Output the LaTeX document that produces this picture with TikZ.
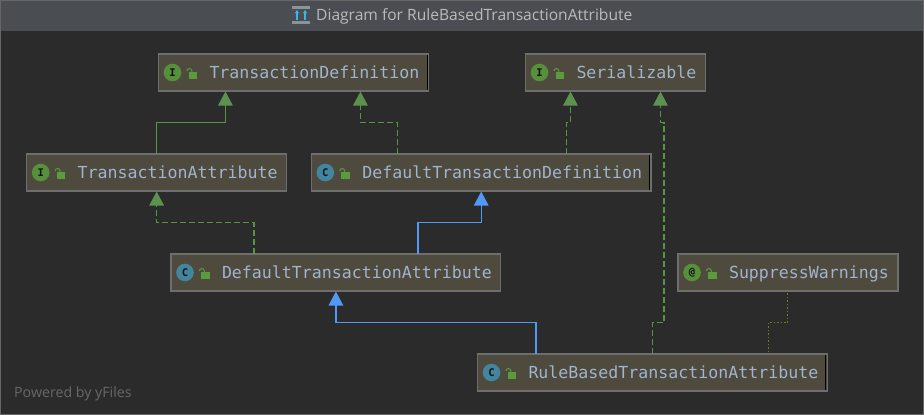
\documentclass[tikz,border=0pt]{standalone}
\usepackage{fontspec}
\setmainfont{Open Sans}
\newfontfamily\boxfont{DejaVu Sans Mono}
\usetikzlibrary{arrows.meta}
\definecolor{canvas}{HTML}{2B2B2B}
\definecolor{titlebar}{HTML}{4A4D51}
\definecolor{frameline}{HTML}{666666}
\definecolor{boxfill}{HTML}{4E4A3E}
\definecolor{boxline}{HTML}{6E6E6E}
\definecolor{boxtext}{HTML}{A0B4CE}
\definecolor{greenline}{HTML}{55963F}
\definecolor{greentip}{HTML}{5C9150}
\definecolor{blueline}{HTML}{5199F5}
\definecolor{oliveline}{HTML}{77771F}
\definecolor{ifacegreen}{HTML}{56903A}
\definecolor{classblue}{HTML}{41859F}
\definecolor{lockgreen}{HTML}{5A9B3C}
\definecolor{titletext}{HTML}{BBBBBB}
\definecolor{poweredtext}{HTML}{686868}
\definecolor{iconbar}{HTML}{8A949C}
\definecolor{iconarrow}{HTML}{3DB4E8}
\tikzset{
  classbox/.style={draw=boxline, line width=1.3pt, fill=boxfill, anchor=west, outer sep=0pt,
    inner xsep=0pt, inner ysep=0pt, minimum height=37pt, text=boxtext,
    text height=15pt, text depth=3.4pt,
    font=\boxfont\fontsize{16.6}{20}\selectfont, align=left,
    execute at begin node={\hspace*{51pt}}, execute at end node={\hspace*{9pt}}},
  badge/.style={circle, minimum size=17.6pt, inner sep=0pt, text=black!75!boxfill,
    font=\boxfont\bfseries\fontsize{10.5}{10}\selectfont},
  extends/.style={line width=1.2pt, color=greenline, -{Triangle[length=14pt,width=14.5pt,color=greentip]}, shorten >=0.5pt},
  implements/.style={extends, dash pattern=on 6pt off 3pt},
  subclass/.style={line width=1.2pt, color=blueline, -{Triangle[length=14pt,width=14.5pt]}, shorten >=0.5pt},
  annotated/.style={line width=1pt, color=oliveline, dash pattern=on 1.5pt off 2pt},
}
% circle and open lock at the left end of a box
\newcommand{\classicon}[3]{
  \node (#1-badge) [badge, fill=#3] at ([xshift=14pt]#1.west) {#2};
  \fill [lockgreen] ([xshift=30pt,yshift=-6pt]#1.west) rectangle ([xshift=38.5pt,yshift=0.5pt]#1.west);
  \draw [lockgreen, line width=1pt] ([xshift=28.4pt,yshift=1.5pt]#1.west) arc [start angle=180, end angle=0, radius=2.5pt] -- ++(0,-1.5pt);
}
\newcommand{\darkedge}[1]{
  \draw [black, line width=0.9pt] ([xshift=-1.4pt,yshift=-0.7pt]#1.north east) -- ([xshift=-1.4pt,yshift=0.7pt]#1.south east);
}
\begin{document}
\begin{tikzpicture}[x=1pt, y=-1pt]
   \useasboundingbox (0,0) rectangle (924,415);
   \fill [canvas] (0,0) rectangle (924,415);
   \fill [titlebar] (0,0) rectangle (924,31);
   \draw [frameline, line width=1.2pt] (0.6,0.6) rectangle (923.4,414.4);
   % title bar
   \fill [iconbar] (292,6) rectangle (310,9);
   \fill [iconbar] (292,21) rectangle (310,24);
   \draw [iconarrow, line width=1.1pt, -{Stealth[length=3.5pt,width=4.5pt]}] (297,20) -- (297,10);
   \draw [iconarrow, line width=1.1pt, -{Stealth[length=3.5pt,width=4.5pt]}] (305,20) -- (305,10);
   \node (title) [anchor=west, inner sep=0pt, text=titletext, font=\fontsize{15.6}{18}\selectfont] at (316,16) {Diagram for RuleBasedTransactionAttribute};
   \node (powered) [anchor=west, inner sep=0pt, text=poweredtext, font=\fontsize{14.2}{16}\selectfont] at (14,394) {Powered by yFiles};
   % boxes
   \node (tdef) [classbox] at (158.5,72.5) {TransactionDefinition};
   \node (ser) [classbox] at (525.5,72.5) {Serializable};
   \node (tattr) [classbox] at (26.7,172.5) {TransactionAttribute};
   \node (dtdef) [classbox] at (311.3,172.5) {DefaultTransactionDefinition};
   \node (dtattr) [classbox] at (171,272.5) {DefaultTransactionAttribute};
   \node (supp) [classbox] at (678,272.5) {SuppressWarnings};
   \node (rbta) [classbox] at (477.5,372.5) {RuleBasedTransactionAttribute};
   \classicon{tdef}{I}{ifacegreen}
   \classicon{ser}{I}{ifacegreen}
   \classicon{tattr}{I}{ifacegreen}
   \classicon{dtdef}{C}{classblue}
   \classicon{dtattr}{C}{classblue}
   \classicon{supp}{@}{ifacegreen}
   \classicon{rbta}{C}{classblue}
   \darkedge{tdef}
   \darkedge{dtdef}
   \darkedge{rbta}
   % connectors
   \draw [extends] (tattr.north) -- ++(0,-31.5) -| ([xshift=-68pt]tdef.south);
   \draw [implements] ([xshift=-84pt]dtdef.north) -- ++(0,-31.5) -| ([xshift=67pt]tdef.south);
   \draw [implements] ([xshift=85.5pt]dtdef.north) -- ++(0,-31.5) -| ([xshift=-45pt]ser.south);
   \draw [implements] (rbta.north) -- ++(0,-31.5) -| (664,122.5) -| ([xshift=45pt]ser.south);
   \draw [implements] ([xshift=-82pt]dtattr.north) -- ++(0,-31.5) -| (tattr.south);
   \draw [subclass] ([xshift=82pt]dtattr.north) -- ++(0,-31.5) -| (dtdef.south);
   \draw [subclass] ([xshift=-116.5pt]rbta.north) -- ++(0,-31.5) -| (dtattr.south);
   \draw [annotated] ([yshift=-2pt]supp.south) -- ++(0,29.5) -| ([xshift=116.5pt]rbta.north);
\end{tikzpicture}
\end{document}
